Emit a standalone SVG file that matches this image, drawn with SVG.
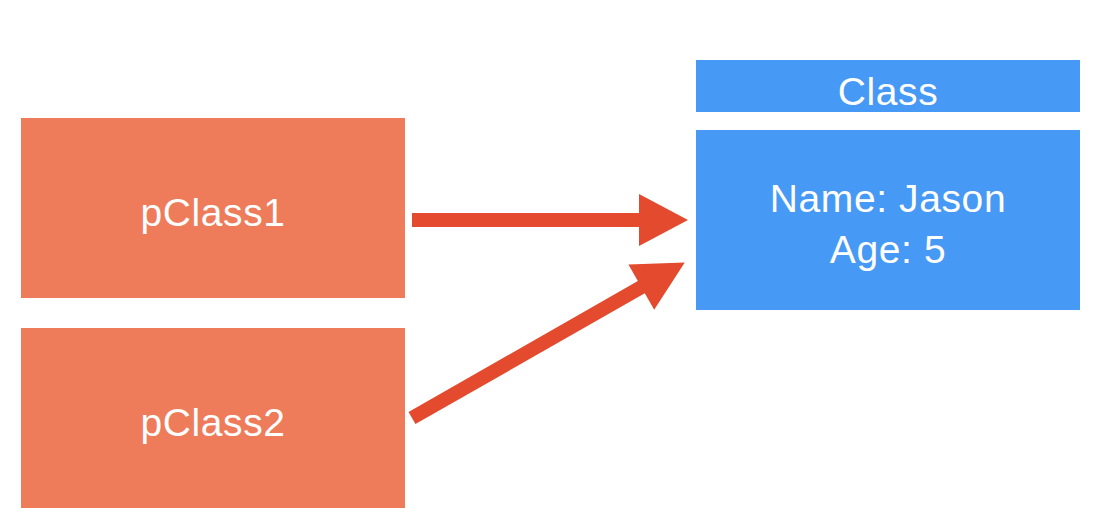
<svg xmlns="http://www.w3.org/2000/svg" width="1100" height="526" viewBox="0 0 1100 526">
<style>
.o{fill:#EE7B5A}
.b{fill:#4699F5}
.t{fill:#fff;font-family:"Liberation Sans",Arial,sans-serif;font-size:39px;letter-spacing:0.6px;text-anchor:middle}
.a{fill:#E34A2E}
</style>
<rect width="1100" height="526" fill="#fff"/>
<g id="pClass1"><rect class="o" x="21" y="118" width="384" height="180"/><text class="t" x="213" y="226">pClass1</text></g>
<g id="pClass2"><rect class="o" x="21" y="328" width="384" height="180"/><text class="t" x="213" y="436">pClass2</text></g>
<g id="classHeader"><rect class="b" x="696" y="60" width="384" height="52"/><text class="t" x="888" y="105">Class</text></g>
<g id="classBody"><rect class="b" x="696" y="130" width="384" height="180"/><text class="t" x="888" y="212">Name: Jason</text><text class="t" x="888" y="263">Age: 5</text></g>
<g id="connectors">
<polygon class="a" points="412,213 639,213 639,194 688,220 639,246 639,227 412,227"/>
<polygon class="a" transform="translate(412,418) rotate(-29.7)" points="0,-7 264,-7 264,-26 314,0 264,26 264,7 0,7"/>
</g>
</svg>
